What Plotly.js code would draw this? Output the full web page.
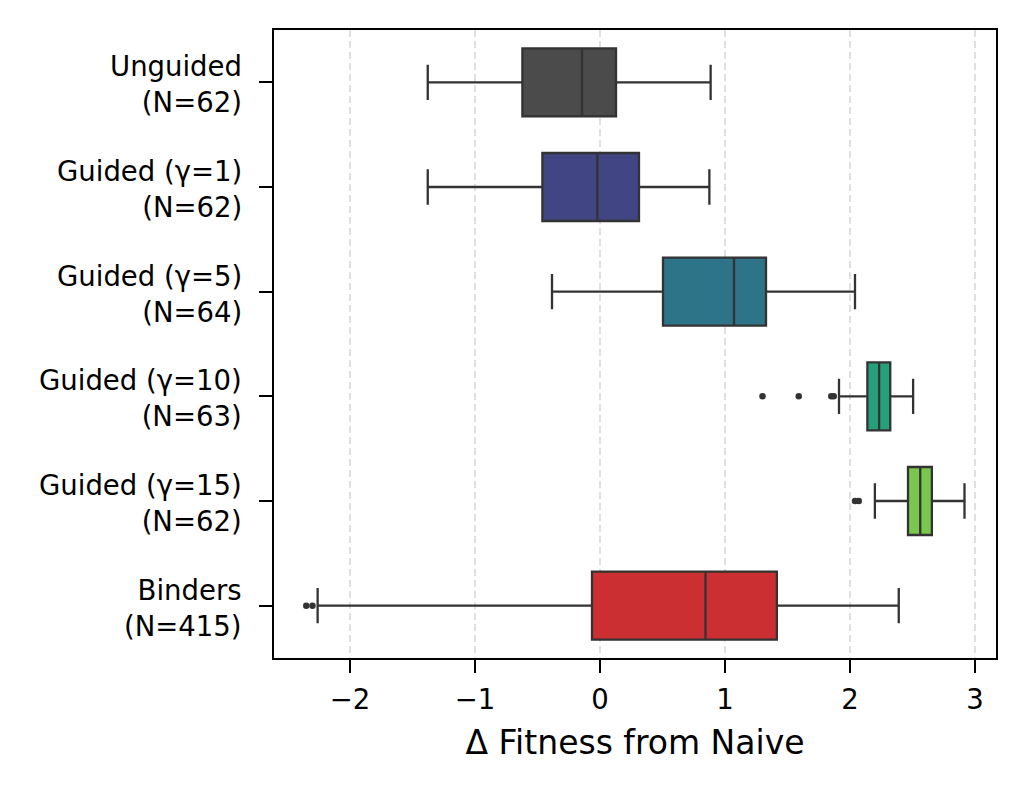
<!DOCTYPE html>
<html>
<head>
<meta charset="utf-8">
<script src="https://cdn.plot.ly/plotly-3.0.1.min.js"></script>
<style>html,body{margin:0;padding:0;background:#fff;}#chart{width:1027px;height:798px;}</style>
</head>
<body>
<div id="chart"></div>
<script>
// Categories (tick labels: group name + sample size)
const groupNames = ["Unguided", "Guided (γ=1)", "Guided (γ=5)", "Guided (γ=10)", "Guided (γ=15)", "Binders"];
const groupCounts = ["(N=62)", "(N=62)", "(N=64)", "(N=63)", "(N=62)", "(N=415)"];
const categories = groupNames.map((g, i) => g + " " + groupCounts[i]);
// Box statistics
const lowerWhisker = [-1.378, -1.378, -0.384, 1.912, 2.199, -2.259];
const q1Values     = [-0.621, -0.461,  0.504, 2.139, 2.464, -0.064];
const medians      = [-0.144, -0.021,  1.072, 2.233, 2.562,  0.844];
const q3Values     = [ 0.128,  0.312,  1.328, 2.322, 2.655,  1.415];
const upperWhisker = [ 0.885,  0.875,  2.040, 2.505, 2.916,  2.390];
const boxColors = ["#4b4b4b", "#414583", "#2e7489", "#26a07b", "#79c74c", "#cc2f31"];
// Outliers
const outlierCats = [categories[3], categories[3], categories[3], categories[3],
                     categories[4], categories[4], categories[5], categories[5]];
const outlierValues = [1.30, 1.59, 1.85, 1.87, 2.04, 2.07, -2.35, -2.30];
const xTickVals = [-2, -1, 0, 1, 2, 3];
const xTickText = ["−2", "−1", "0", "1", "2", "3"];

const lineColor = "#333333";
const labelSize = 27.5;
const traces = categories.map((c, i) => ({
  type: "box",
  orientation: "h",
  y: [c],
  q1: [q1Values[i]],
  median: [medians[i]],
  q3: [q3Values[i]],
  lowerfence: [lowerWhisker[i]],
  upperfence: [upperWhisker[i]],
  fillcolor: boxColors[i],
  line: {color: lineColor, width: 2.3},
  width: 0.65,
  whiskerwidth: 0.52,
  boxpoints: false,
  showlegend: false,
  hoverinfo: "skip"
}));
traces.push({
  type: "scatter",
  mode: "markers",
  x: outlierValues,
  y: outlierCats,
  marker: {color: lineColor, size: 6.5},
  showlegend: false,
  hoverinfo: "skip"
});

const annotations = groupNames.map((g, i) => ({
  xref: "paper", yref: "y", x: 0, y: i,
  text: g + "<br>" + groupCounts[i],
  showarrow: false, align: "right",
  xanchor: "right", yanchor: "middle", xshift: -31, yshift: -2, borderpad: 0,
  font: {size: labelSize, color: "#000"}
}));

const layout = {
  width: 1027,
  height: 798,
  margin: {l: 274, r: 31, t: 30, b: 140},
  paper_bgcolor: "#ffffff",
  plot_bgcolor: "#ffffff",
  font: {family: "DejaVu Sans", color: "#000000", size: labelSize},
  boxmode: "overlay",
  annotations: annotations,
  xaxis: {
    range: [-2.608, 3.168],
    tickvals: xTickVals,
    ticktext: xTickText,
    showgrid: true,
    gridcolor: "#e0e0e0",
    gridwidth: 1.5,
    griddash: "7px,4px",
    zeroline: false,
    showline: true,
    linecolor: "#000000",
    linewidth: 2,
    mirror: true,
    ticks: "outside",
    ticklen: 13,
    tickwidth: 2,
    tickcolor: "#000000",
    ticklabelstandoff: 3,
    tickfont: {size: labelSize},
    title: {text: "Δ Fitness from Naive", font: {size: 33}, standoff: 17}
  },
  yaxis: {
    type: "category",
    categoryorder: "array",
    categoryarray: categories,
    range: [5.5, -0.5],
    showgrid: false,
    zeroline: false,
    showline: true,
    linecolor: "#000000",
    linewidth: 2,
    mirror: true,
    ticks: "outside",
    ticklen: 13,
    tickwidth: 2,
    tickcolor: "#000000",
    showticklabels: false
  }
};

Plotly.newPlot("chart", traces, layout, {staticPlot: true});
</script>
</body>
</html>
